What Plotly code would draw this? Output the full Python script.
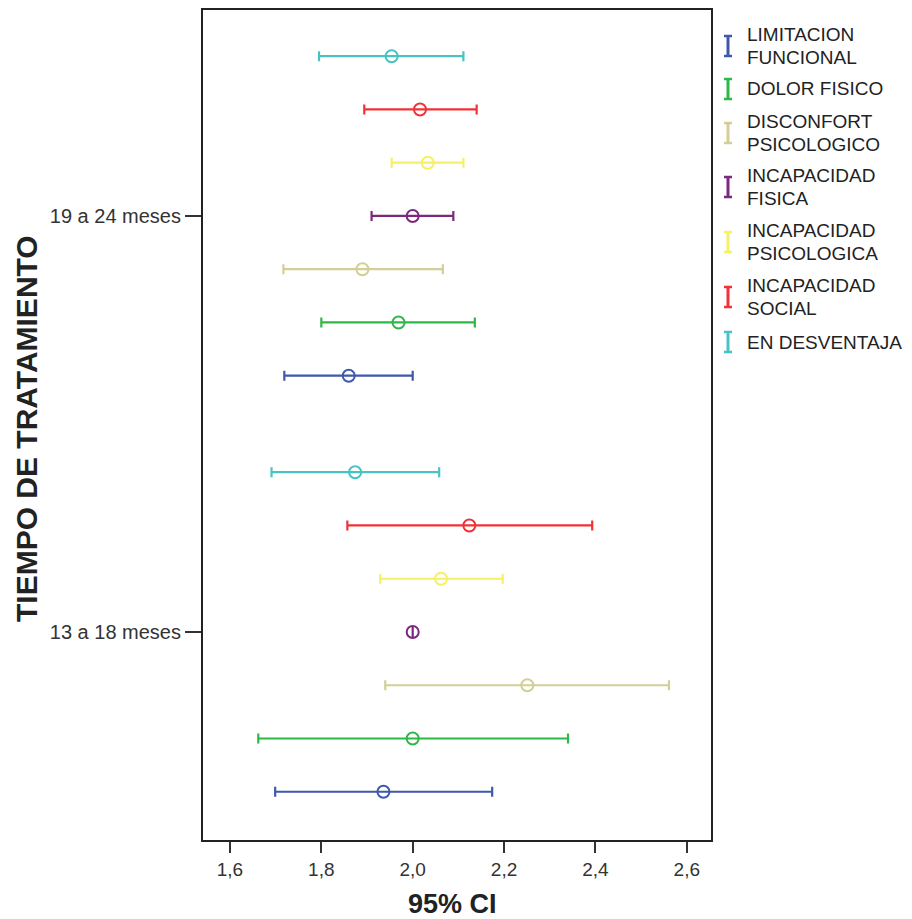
import plotly.graph_objects as go

# ---- data ----
groups = ["13 a 18 meses", "19 a 24 meses"]
series = ["LIMITACION FUNCIONAL", "DOLOR FISICO", "DISCONFORT PSICOLOGICO",
          "INCAPACIDAD FISICA", "INCAPACIDAD PSICOLOGICA", "INCAPACIDAD SOCIAL",
          "EN DESVENTAJA"]
legend_lines = [["LIMITACION", "FUNCIONAL"], ["DOLOR FISICO"], ["DISCONFORT", "PSICOLOGICO"],
                ["INCAPACIDAD", "FISICA"], ["INCAPACIDAD", "PSICOLOGICA"], ["INCAPACIDAD", "SOCIAL"],
                ["EN DESVENTAJA"]]
colors = ["#3E58AC", "#2EB848", "#D3CE97", "#7C287D", "#F5F064", "#EF3338", "#48C2C5"]

# means / lower / upper per series, order: [13 a 18, 19 a 24]
means = [[1.936, 1.860], [2.000, 1.969], [2.251, 1.890], [2.000, 2.000],
         [2.062, 2.033], [2.124, 2.016], [1.874, 1.954]]
lower = [[1.699, 1.719], [1.662, 1.800], [1.940, 1.717], [2.000, 1.910],
         [1.929, 1.954], [1.857, 1.894], [1.691, 1.795]]
upper = [[2.174, 2.000], [2.340, 2.136], [2.561, 2.066], [2.000, 2.089],
         [2.197, 2.111], [2.393, 2.140], [2.058, 2.111]]

W, H = 912, 919
ML, MR, MT, MB = 203, 201, 10, 79
step = 0.128

fig = go.Figure()
for i, name in enumerate(series):
    ys = [g + (i - 3) * step for g in range(len(groups))]
    fig.add_trace(go.Scatter(
        x=means[i], y=ys, mode="markers", name=name, showlegend=False,
        marker=dict(symbol="circle-open", size=12, color=colors[i], line=dict(width=2)),
        error_x=dict(type="data", symmetric=False,
                     array=[u - m for u, m in zip(upper[i], means[i])],
                     arrayminus=[m - l for m, l in zip(means[i], lower[i])],
                     color=colors[i], thickness=2.2, width=5),
    ))

fig.update_layout(
    width=W, height=H, paper_bgcolor="white", plot_bgcolor="white",
    margin=dict(l=ML, r=MR, t=MT, b=MB, autoexpand=False),
    font=dict(family="Liberation Sans, Arial", color="#222"),
    xaxis=dict(range=[1.541, 2.653], tickvals=[1.6, 1.8, 2.0, 2.2, 2.4, 2.6],
               ticktext=["1,6", "1,8", "2,0", "2,2", "2,4", "2,6"],
               ticks="outside", ticklen=11, tickwidth=2, tickcolor="#333",
               showline=True, linecolor="#222", linewidth=2, mirror=True,
               showgrid=False, zeroline=False, tickfont=dict(size=19, color="#333"),
               automargin=False),
    yaxis=dict(range=[-0.5, 1.495], tickvals=[0, 1], ticktext=groups,
               ticks="outside", ticklen=16, tickwidth=2, tickcolor="#333",
               showline=True, linecolor="#222", linewidth=2, mirror=True,
               showgrid=False, zeroline=False, tickfont=dict(size=20, color="#333"),
               automargin=False),
)

pw, ph = W - ML - MR, H - MT - MB
def px(xp):
    return (xp - ML) / pw
def py(yp):
    return 1 - (yp - MT) / ph

# axis titles
fig.add_annotation(text="<b>95% CI</b>", xref="paper", yref="paper",
                   x=px(452), y=py(904), showarrow=False,
                   xanchor="center", yanchor="middle", font=dict(size=27, color="#222"))
fig.add_annotation(text="<b>TIEMPO DE TRATAMIENTO</b>", textangle=-90,
                   xref="paper", yref="paper", x=px(26), y=py(429),
                   showarrow=False, xanchor="center", yanchor="middle",
                   font=dict(size=30, color="#222"))

# manual legend with error-bar icons
icon_y = [46, 89, 133, 187, 242, 297, 342]
for i, lines in enumerate(legend_lines):
    cy = icon_y[i]
    n = len(lines)
    for k, line in enumerate(lines):
        ly = cy + (k - (n - 1) / 2) * 22.5
        fig.add_annotation(text=line, xref="paper", yref="paper", x=px(745), y=py(ly),
                           xanchor="left", yanchor="middle", align="left", showarrow=False,
                           font=dict(size=19, color="#222"))
    c = colors[i]
    fig.add_shape(type="line", xref="paper", yref="paper", x0=px(728), x1=px(728),
                  y0=py(cy - 10), y1=py(cy + 10), line=dict(color=c, width=3))
    for dy in (-10, 10):
        fig.add_shape(type="line", xref="paper", yref="paper", x0=px(724), x1=px(732),
                      y0=py(cy + dy), y1=py(cy + dy), line=dict(color=c, width=2.5))

fig.write_html("out.html")
